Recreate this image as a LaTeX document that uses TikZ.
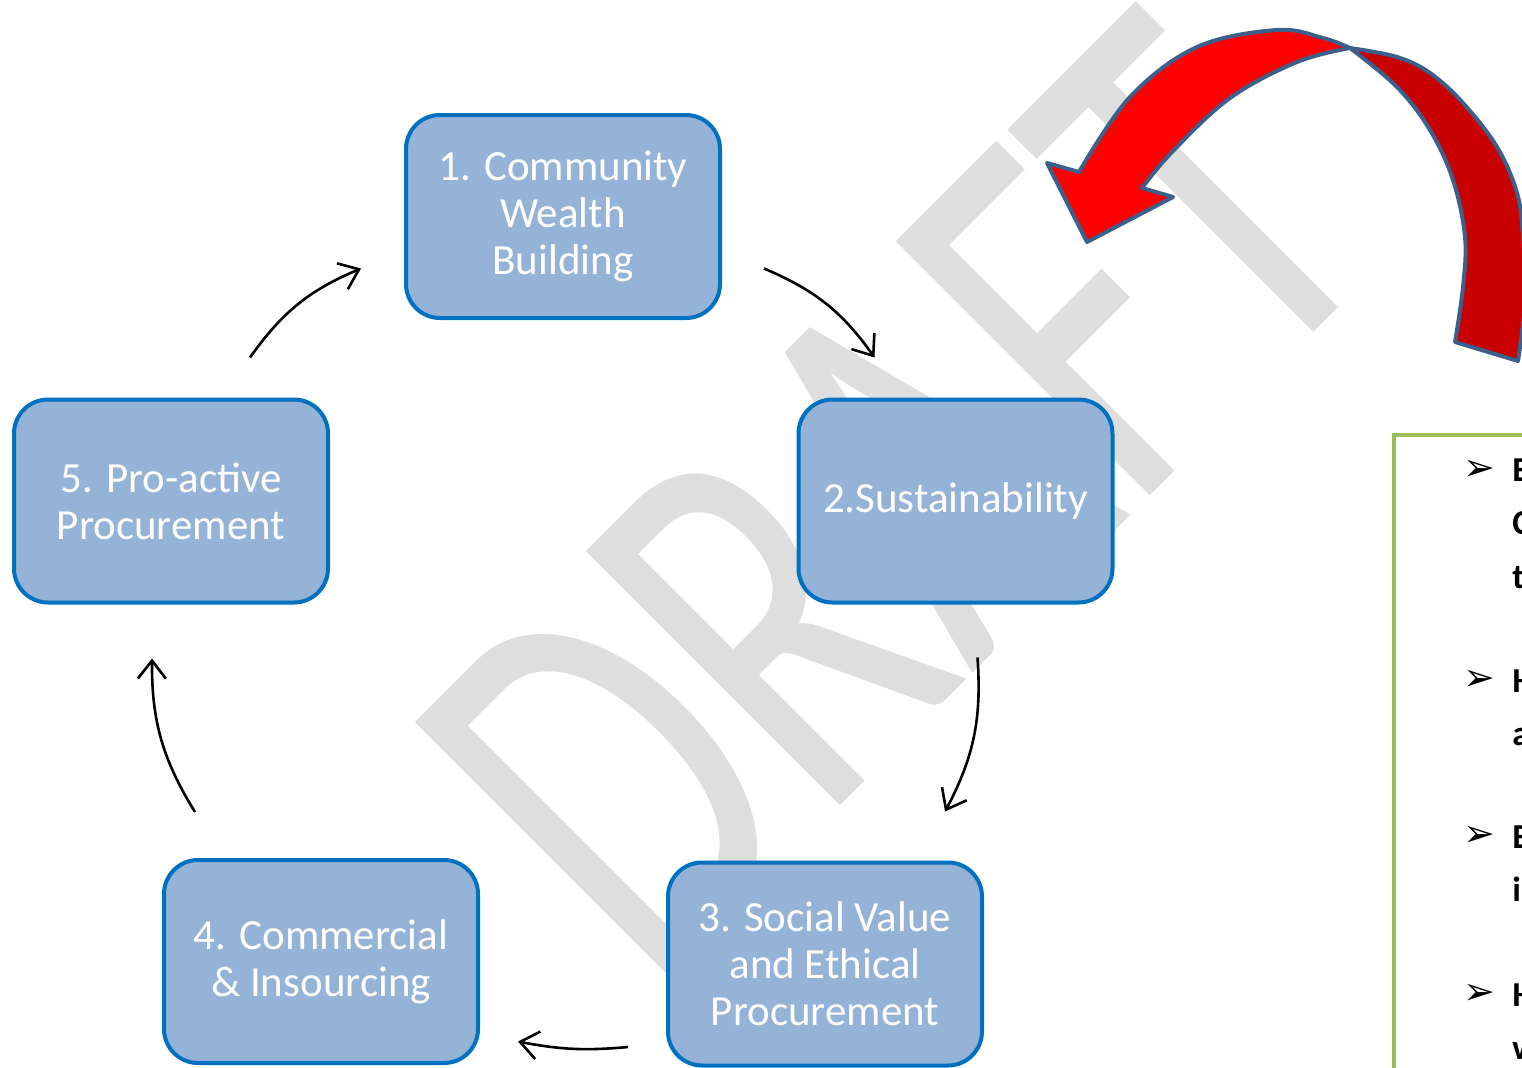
\documentclass[tikz,border=0pt]{standalone}
\usepackage{fontspec}
\setmainfont{Carlito}
\newfontfamily\dingfont{DejaVu Sans}
\usetikzlibrary{arrows.meta}
\definecolor{boxfill}{RGB}{149,179,215}
\definecolor{boxline}{RGB}{0,112,192}
\definecolor{draftgray}{RGB}{222,222,222}
\definecolor{arrowred}{RGB}{255,0,0}
\definecolor{arrowdark}{RGB}{200,0,0}
\definecolor{arrowline}{RGB}{60,96,140}
\definecolor{notegreen}{RGB}{155,187,89}
\begin{document}
\begin{tikzpicture}[x=0.5pt,y=-0.5pt,
		stage/.style={draw=boxline, line width=2pt, fill=boxfill, rounded corners=17pt, minimum width=157pt, minimum height=101.5pt, align=center, text=white, inner sep=0pt, font=\fontsize{21.5}{23.5}\selectfont},
		flow/.style={-{Straight Barb[length=9pt,width=14pt]}, line width=1.3pt, bend left=16},
		tick/.style={inner sep=0pt, font=\dingfont\fontsize{19}{19}\selectfont},
		word/.style={anchor=base west, inner sep=0pt, font=\bfseries\fontsize{17.5}{17.5}\selectfont}]
	\useasboundingbox (0,0) rectangle (1522,1067);
	% watermark
	\node[draftgray, rotate=45, anchor=base, inner sep=0pt, font=\fontsize{280}{280}\selectfont] (draft) at (1022,624) {\scalebox{0.7}[1]{DRAFT}};
	% the five stages
	\node[stage] (n1) at (563,216.5) {1. Community\\Wealth\\Building};
	\node[stage] (n2) at (955.5,501) {2.Sustainability};
	\node[stage] (n3) at (825,964) {3. Social Value\\and Ethical\\Procurement};
	\node[stage] (n4) at (321,961.5) {4. Commercial\\\& Insourcing};
	\node[stage] (n5) at (171,501) {5. Pro-active\\Procurement};
	\draw[flow] ([shift={(42,52)}]n1.east) to ([shift={(78,-40)}]n2.north west);
	\draw[flow] ([shift={(22,53)}]n2.south) to ([shift={(120,-49)}]n3.north);
	\draw[flow, bend left=8] ([shift={(-38,83)}]n3.west) to ([shift={(38,80)}]n4.east);
	\draw[flow] ([shift={(33,-46)}]n4.north west) to ([shift={(-19,54)}]n5.south);
	\draw[flow] ([shift={(79,-40)}]n5.north) to ([shift={(-43,52)}]n1.west);
	% red curved arrow
	\path (1350,48) coordinate (P);
	\filldraw[fill=arrowdark, draw=arrowline, line width=2pt, line join=round] (P) -- plot[smooth, tension=0.6] coordinates {(P) (1397,57) (1430,73) (1463,103) (1497,147) (1517,193) (1523,237) (1525,300) (1518,361)} -- (1455,342) -- plot[smooth, tension=0.6] coordinates {(1455,342) (1463,287) (1465,237) (1453,180) (1430,130) (1397,87) (P)} -- cycle;
	\filldraw[fill=arrowred, draw=arrowline, line width=2pt, line join=round] (P) -- plot[smooth, tension=0.6] coordinates {(P) (1297,62) (1230,98) (1172,152) (1142,188)} -- (1173,197) -- (1087,242) -- (1047,163) -- (1079,172) -- plot[smooth, tension=0.6] coordinates {(1079,172) (1130,97) (1197,47) (1277,30) (1323,38) (P)} -- cycle;
	% notes box
	\draw[notegreen, line width=2pt] (1394,435) rectangle (1560,1100);
	\foreach \y/\i in {470/1,680/2,836/3,994/4}
		\node[tick] (b\i) at (1479,\y) {➢};
	\foreach \y/\c/\i in {481/E/1,534/C/2,588/t/3,692/H/4,745/a/5,848/E/6,901/i/7,1006/H/8,1059/w/9}
		\node[word] (w\i) at (1512,\y) {\c};
\end{tikzpicture}
\end{document}
